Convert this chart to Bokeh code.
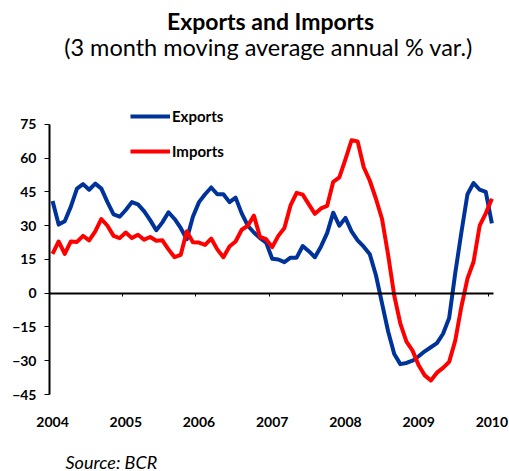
import pandas as pd
from bokeh.plotting import figure
from bokeh.models import (Range1d, LinearAxis, FixedTicker, CustomJSTickFormatter,
                          Legend, LegendItem, Label)
from bokeh.embed import file_html
from bokeh.resources import INLINE

# ---- data (monthly, Jan 2004 .. Jan 2010) ----
months = pd.date_range("2004-01-01", "2010-01-01", freq="MS")

exports = [41, 30.5, 32, 38.5, 46.5, 48.5, 46, 48.7, 46.5, 40.5, 35, 34,
           37, 40.5, 39.5, 36.5, 32.5, 28, 31.5, 36, 33, 29, 24, 34,
           40.5, 44, 47, 44, 44, 40.5, 42.5, 35.5, 30, 27, 24.5, 22.5,
           15.3, 15, 13.8, 15.8, 15.8, 21, 18.7, 16, 20.8, 26.7, 35.8, 30,
           33.5, 27.5, 23.5, 20.7, 17.3, 8, -4.5, -17, -27, -31.5, -31, -30,
           -28, -25.8, -24, -22.2, -18, -11, 9, 27, 44, 49, 46, 45,
           31]

imports = [17.5, 23, 17.5, 23, 22.8, 25.5, 23.5, 27.5, 33, 30, 25.5, 24.5,
           27, 24.5, 26, 23.8, 25, 23.3, 23.5, 19.5, 16, 17, 27.5, 22.7,
           22.5, 21.5, 24.3, 19.5, 16, 20.8, 23, 28.2, 30, 34.5, 25, 24,
           20.5, 25.5, 29, 39, 44.6, 43.8, 39.5, 35.3, 37.7, 38.8, 49.5, 51.5,
           59.5, 68, 67.5, 56, 50, 42, 33, 17, -1, -13.5, -21.5, -25.5,
           -32, -36.5, -38.8, -35.3, -33.2, -30.5, -21, -6, 6.5, 14, 30, 35.5,
           42]

year_ticks = [2004, 2005, 2006, 2007, 2008, 2009, 2010]
y_ticks = [-45, -30, -15, 0, 15, 30, 45, 60, 75]

title_text = "Exports and Imports"
subtitle_text = "(3 month moving average annual % var.)"
source_text = "Source: BCR"

# mid-month positions in fractional years
x = [d.year + (d.month - 0.5) / 12 for d in months]

FONT = "Lato"
BLUE = "#003399"
RED = "#FF0000"

# The frame fills the whole canvas; all visible axes are fixed and bounded.
p = figure(width=509, height=471, output_backend="svg", toolbar_location=None,
           x_range=Range1d(2003.3308, 2010.2824), y_range=Range1d(-79.22, 130.1),
           min_border_left=0, min_border_right=0, min_border_top=0,
           min_border_bottom=0)
p.outline_line_color = None
p.grid.visible = False

r_exp = p.line(x, exports, line_color=BLUE, line_width=4, line_join="round")
r_imp = p.line(x, imports, line_color=RED, line_width=4, line_join="round")

# y axis at 2004
ya = p.yaxis[0]
ya.fixed_location = 2004
ya.bounds = (-45, 75)
ya.ticker = FixedTicker(ticks=y_ticks)
ya.axis_line_width = 2
ya.axis_line_color = "black"
ya.major_tick_out = 5
ya.major_tick_in = 0
ya.major_tick_line_width = 1
ya.minor_tick_line_color = None
ya.major_label_standoff = 8
ya.major_label_text_font = FONT
ya.major_label_text_font_style = "bold"
ya.major_label_text_font_size = "14px"
ya.major_label_text_color = "black"

# year labels, placed under the -45 level
xa = p.xaxis[0]
xa.fixed_location = -45
xa.ticker = FixedTicker(ticks=[yr + 0.5 / 12 for yr in year_ticks])
xa.formatter = CustomJSTickFormatter(code="return Math.floor(tick).toFixed(0);")
xa.axis_line_color = None
xa.major_tick_line_color = None
xa.minor_tick_line_color = None
xa.major_label_standoff = 16
xa.major_label_text_font = FONT
xa.major_label_text_font_style = "bold"
xa.major_label_text_font_size = "14px"
xa.major_label_text_color = "black"

# zero line axis with ticks
za = LinearAxis(fixed_location=0, bounds=(2004, 2010.07),
                ticker=FixedTicker(ticks=year_ticks),
                formatter=CustomJSTickFormatter(code="return '';"))
za.axis_line_width = 2
za.axis_line_color = "black"
za.major_tick_out = 3
za.major_tick_in = 0
za.major_tick_line_width = 1
za.minor_tick_line_color = None
za.major_label_text_font_size = "1px"
p.add_layout(za, "below")

legend = Legend(items=[LegendItem(label="Exports", renderers=[r_exp]),
                       LegendItem(label="Imports", renderers=[r_imp])],
                location=(130, 310), orientation="vertical", padding=0, margin=0,
                spacing=15, glyph_width=40, glyph_height=20, label_height=20,
                label_standoff=2, border_line_color=None,
                background_fill_alpha=0,
                label_text_font=FONT, label_text_font_style="bold",
                label_text_font_size="15px", label_text_color="black")
p.add_layout(legend, "center")

p.add_layout(Label(x=270, y=450.7, x_units="screen", y_units="screen",
                   text=title_text, text_align="center", text_baseline="alphabetic",
                   text_font=FONT, text_font_style="bold", text_font_size="23px",
                   text_color="black"))
p.add_layout(Label(x=268, y=424.7, x_units="screen", y_units="screen",
                   text=subtitle_text, text_align="center", text_baseline="alphabetic",
                   text_font=FONT, text_font_size="23.5px", text_color="black"))
p.add_layout(Label(x=65, y=10, x_units="screen", y_units="screen",
                   text=source_text, text_align="left", text_baseline="alphabetic",
                   text_font=FONT, text_font_style="italic", text_font_size="18px",
                   text_color="black"))

open("out.html", "w").write(file_html(p, INLINE))
